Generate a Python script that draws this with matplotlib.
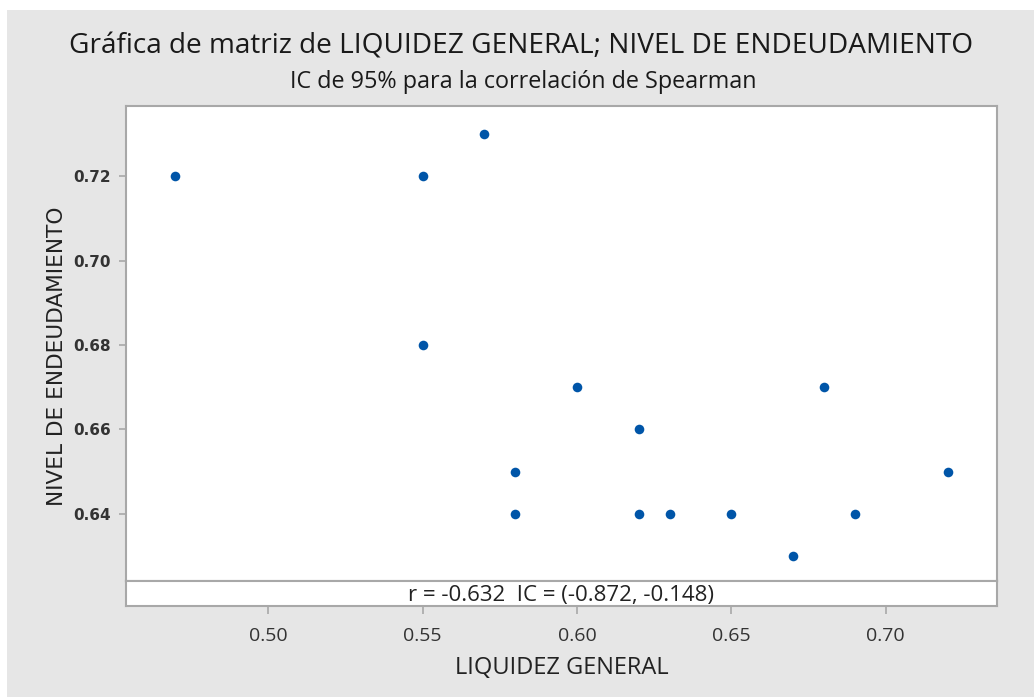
import matplotlib
matplotlib.use("Agg")
import matplotlib.pyplot as plt
import matplotlib.patches as mpatches

# ── data ───────────────────────────────────────────────────────────────────
liquidez = [0.47, 0.55, 0.57, 0.55, 0.60, 0.62, 0.58, 0.58, 0.62, 0.63, 0.65, 0.67, 0.68, 0.69, 0.72]
endeudamiento = [0.72, 0.72, 0.73, 0.68, 0.67, 0.66, 0.65, 0.64, 0.64, 0.64, 0.64, 0.63, 0.67, 0.64, 0.65]
x_ticks = [0.50, 0.55, 0.60, 0.65, 0.70]
y_ticks = [0.64, 0.66, 0.68, 0.70, 0.72]
r_text = "r = -0.632  IC = (-0.872, -0.148)"

W, H = 1034, 697
BG = "#e6e6e6"
DOT = "#0055a8"
SPINE = "#a8a8a8"
FONT = ["Open Sans", "DejaVu Sans"]

fig = plt.figure(figsize=(W / 100, H / 100), dpi=100)
fig.patch.set_facecolor("white")
fig.patches.append(mpatches.Rectangle((7 / W, 0), 1, (H - 10) / H, transform=fig.transFigure,
                                      facecolor=BG, edgecolor="none", zorder=-10))

left, right = 126, 997
top, mid, bot = 106, 581, 606
ax = fig.add_axes([left / W, (H - mid) / H, (right - left) / W, (mid - top) / H])
ax_s = fig.add_axes([left / W, (H - bot) / H, (right - left) / W, (bot - mid) / H], sharex=ax)

ax.scatter(liquidez, endeudamiento, s=48, color=DOT, zorder=3, linewidths=0)
ax.set_xlim(0.454, 0.736)
ax.set_ylim(0.6241, 0.7366)
ax.set_yticks(y_ticks)
ax.set_yticklabels([f"{v:.2f}" for v in y_ticks], fontsize=11, color="#333333",
                   fontweight="semibold", family="DejaVu Sans")
ax.tick_params(axis="x", bottom=False, labelbottom=False)
ax.tick_params(axis="y", direction="out", length=5, color=SPINE, width=1.2, pad=6)

# y label centred on the plot + stats strip together
fig.text(57 / W, 1 - 356 / H, "NIVEL DE ENDEUDAMIENTO", rotation=90, ha="center", va="center",
         fontsize=15.6, color="#222222", family="DejaVu Sans")

ax_s.set_ylim(0, 1)
ax_s.set_yticks([])
ax_s.text(0.5, 0.42, r_text, transform=ax_s.transAxes, ha="center", va="center",
          fontsize=16, family=FONT, color="#222222")
ax_s.set_xticks(x_ticks)
ax_s.set_xticklabels([f"{v:.2f}" for v in x_ticks], fontsize=14, family=FONT, color="#333333")
ax_s.tick_params(axis="x", direction="out", length=6, color=SPINE, width=1.2, pad=9)
ax_s.set_xlabel("LIQUIDEZ GENERAL", fontsize=17, family=FONT, color="#222222", labelpad=8)

for a in (ax, ax_s):
    a.set_facecolor("white")
    for sp in a.spines.values():
        sp.set_color(SPINE)
        sp.set_linewidth(1.5)

fig.text(521 / W, 1 - 47 / H, "Gráfica de matriz de LIQUIDEZ GENERAL; NIVEL DE ENDEUDAMIENTO",
         ha="center", va="center", fontsize=20.2, family=FONT, color="#1a1a1a")
fig.text(523 / W, 1 - 82 / H, "IC de 95% para la correlación de Spearman",
         ha="center", va="center", fontsize=16.8, family=FONT, color="#1a1a1a")

fig.savefig("out.png", dpi=100, facecolor=fig.get_facecolor())
